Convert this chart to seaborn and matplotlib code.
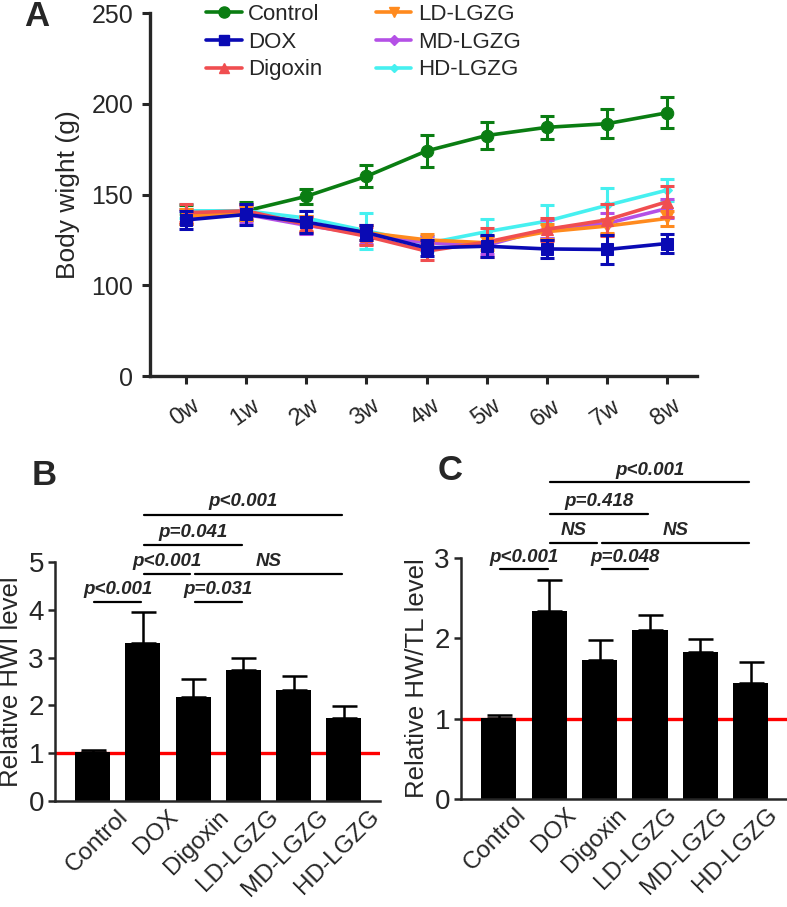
import numpy as np
import pandas as pd
import matplotlib
matplotlib.use("Agg")
import matplotlib.pyplot as plt
import matplotlib.transforms as mtransforms
from matplotlib.lines import Line2D
from matplotlib.ticker import FixedLocator, NullLocator, FormatStrFormatter
import seaborn as sns

# ---- data: panel A, body weight over time (mean, sd) ----
weeks = ['0w', '1w', '2w', '3w', '4w', '5w', '6w', '7w', '8w']
groups = ['Control', 'DOX', 'Digoxin', 'LD-LGZG', 'MD-LGZG', 'HD-LGZG']

control_mean = [139, 141, 149, 160, 174, 182.5, 187, 189, 195]
control_sd = [5, 5, 4, 6, 9, 7.5, 6.5, 8, 8.5]
dox_mean = [136, 139, 134.8, 129, 120.6, 121.5, 120, 119.7, 123]
dox_sd = [5, 6, 6, 4, 4.5, 6, 5, 8, 5.5]
digoxin_mean = [140, 141, 133.5, 127, 118.8, 123.8, 130.8, 136, 146]
digoxin_sd = [5, 4, 4, 5, 5, 8, 6.5, 9, 8.5]
ld_mean = [138, 140, 134, 129, 125, 123.4, 129.5, 132.6, 136.8]
ld_sd = [4, 4, 4, 4, 3, 4, 4, 4, 4]
md_mean = [138, 139, 133, 128, 123.4, 122, 131, 134, 142.3]
md_sd = [4, 4, 5, 5, 4, 5, 5, 6, 5]
hd_mean = [141, 141, 137, 130, 123, 129.5, 135.3, 144, 152.4]
hd_sd = [4, 4, 4, 10, 4, 7, 9, 9.7, 6]

# ---- data: panel B, relative HWI ----
hwi_mean = [1.02, 3.31, 2.17, 2.75, 2.33, 1.74]
hwi_err = [0.04, 0.64, 0.39, 0.25, 0.29, 0.24]
hwi_pairs = [(0, 1), (1, 2), (2, 5), (2, 3), (1, 3), (1, 5)]
hwi_levels = [4.16, 4.74, 4.74, 4.16, 5.35, 5.99]
hwi_labels = ['p<0.001', 'p<0.001', 'NS', 'p=0.031', 'p=0.041', 'p<0.001']

# ---- data: panel C, relative HW/TL ----
hwtl_mean = [1.01, 2.34, 1.73, 2.10, 1.83, 1.45]
hwtl_err = [0.03, 0.39, 0.25, 0.19, 0.16, 0.25]
hwtl_pairs = [(0, 1), (1, 2), (2, 5), (2, 3), (1, 3), (1, 5)]
hwtl_levels = [2.86, 3.19, 3.19, 2.86, 3.55, 3.94]
hwtl_labels = ['p<0.001', 'NS', 'NS', 'p=0.048', 'p=0.418', 'p<0.001']

sns.set_style('ticks')
plt.rcParams['font.family'] = ['Liberation Sans', 'DejaVu Sans']

colors = {'Control': '#0a7d12', 'DOX': '#0a0ab4', 'Digoxin': '#f04e50',
          'LD-LGZG': '#ff8a1e', 'MD-LGZG': '#b450e6', 'HD-LGZG': '#46f0f0'}
markers = {'Control': 'o', 'DOX': 's', 'Digoxin': '^',
           'LD-LGZG': 'v', 'MD-LGZG': 'D', 'HD-LGZG': 'D'}
msizes = {'Control': 9, 'DOX': 8, 'Digoxin': 8,
          'LD-LGZG': 8, 'MD-LGZG': 6, 'HD-LGZG': 5}
means = {'Control': control_mean, 'DOX': dox_mean, 'Digoxin': digoxin_mean,
         'LD-LGZG': ld_mean, 'MD-LGZG': md_mean, 'HD-LGZG': hd_mean}
sds = {'Control': control_sd, 'DOX': dox_sd, 'Digoxin': digoxin_sd,
       'LD-LGZG': ld_sd, 'MD-LGZG': md_sd, 'HD-LGZG': hd_sd}
draw_order = ['Control', 'HD-LGZG', 'MD-LGZG', 'LD-LGZG', 'Digoxin', 'DOX']

fig = plt.figure(figsize=(7.87, 9.07), dpi=100)


def shift_labels(ax, dx, dy):
    off = mtransforms.ScaledTranslation(dx / 100, dy / 100, fig.dpi_scale_trans)
    for lab in ax.get_xticklabels():
        lab.set_transform(lab.get_transform() + off)


# ================= Panel A =================
axA = fig.add_axes([150 / 787, 1 - 376 / 907, (697 - 150) / 787, (376 - 13) / 907])

# y axis: 0 then 100..250 (0-100 shown as one 50-unit step)
def fwd(y):
    y = np.asarray(y, dtype=float)
    return np.where(y >= 100, y - 50, y / 2)

def inv(m):
    m = np.asarray(m, dtype=float)
    return np.where(m >= 50, m + 50, m * 2)

axA.set_yscale('function', functions=(fwd, inv))

rows = []
for g in groups:
    for i, w in enumerate(weeks):
        rows.append({'group': g, 'x': i, 'weight': means[g][i], 'sd': sds[g][i]})
dfA = pd.DataFrame(rows)

for z, g in enumerate(draw_order):
    d = dfA[dfA['group'] == g]
    sns.lineplot(data=d, x='x', y='weight', color=colors[g], marker=markers[g],
                 markersize=msizes[g], markeredgecolor=colors[g], linewidth=2.6,
                 ax=axA, zorder=3 + z, legend=False)
    axA.errorbar(d['x'], d['weight'], yerr=d['sd'], fmt='none', ecolor=colors[g],
                 elinewidth=2.2, capsize=5, capthick=2.2, zorder=3 + z)

axA.set_xlim(-0.6, 8.5)
axA.set_ylim(0, 250)
axA.yaxis.set_major_locator(FixedLocator([0, 100, 150, 200, 250]))
axA.yaxis.set_major_formatter(FormatStrFormatter('%d'))
axA.yaxis.set_minor_locator(NullLocator())
axA.set_xticks(range(len(weeks)))
axA.set_xticklabels(weeks, rotation=35, ha='right', rotation_mode='anchor', fontsize=17)
axA.tick_params(axis='y', labelsize=18, length=6, width=2.2, pad=6)
axA.tick_params(axis='x', length=6, width=2.2, pad=5)
shift_labels(axA, 5, -4)
axA.set_xlabel('')
axA.set_ylabel('Body wight (g)', fontsize=19, labelpad=8)
for s in ['top', 'right']:
    axA.spines[s].set_visible(False)
for s in ['left', 'bottom']:
    axA.spines[s].set_linewidth(2.4)

handles = [Line2D([], [], color=colors[g], marker=markers[g], markersize=msizes[g] - 1,
                  markeredgecolor=colors[g], linewidth=2.6) for g in groups]
fig.legend(handles, groups, loc='upper left', ncol=2, frameon=False,
           bbox_to_anchor=(206 / 787, 1 - 4 / 907), bbox_transform=fig.transFigure,
           fontsize=16, handlelength=1.6, handletextpad=0.3, columnspacing=2.4,
           labelspacing=0.3, borderpad=0, borderaxespad=0)

fig.text(37 / 787, 1 - 17 / 907, 'A', fontsize=25, fontweight='bold', ha='center', va='center')


# ================= Panels B and C =================
def bar_panel(ax, vals, errs, ymax, ylabel, pairs, levels, labels, text_off, dx):
    df = pd.DataFrame({'group': groups, 'value': vals})
    ax.axhline(1, color='#ff0000', linewidth=2.4, zorder=1)
    sns.barplot(data=df, x='group', y='value', order=groups, color='black',
                width=0.7, errorbar=None, saturation=1, linewidth=0,
                ax=ax, zorder=2)
    ax.errorbar(range(len(groups)), vals, yerr=[np.zeros(len(vals)), errs], fmt='none',
                ecolor='black', elinewidth=1.8, capsize=9, capthick=1.8, zorder=3)
    ax.set_xlim(-0.75, 5.72)
    ax.set_ylim(0, ymax)
    ax.set_yticks(range(ymax + 1))
    ax.tick_params(axis='y', labelsize=20, length=5, width=1.8, pad=3)
    ax.tick_params(axis='x', length=0, labelsize=17.5, pad=2)
    ax.set_xticks(range(len(groups)))
    ax.set_xticklabels(groups, rotation=45, ha='right', rotation_mode='anchor')
    shift_labels(ax, dx, -2)
    ax.set_xlabel('')
    ax.set_ylabel(ylabel, fontsize=18.5, labelpad=4)
    for s in ['top', 'right']:
        ax.spines[s].set_visible(False)
    for s in ['left', 'bottom']:
        ax.spines[s].set_linewidth(1.8)
    for (a, b), y, t in zip(pairs, levels, labels):
        x1 = a + (0.02 if a < 2 else 0.04)
        x2 = b - (0.06 if (b - a == 1 and a == 1) else 0.03)
        ax.plot([x1, x2], [y, y], color='black', linewidth=1.6, clip_on=False)
        ax.text((x1 + x2) / 2, y + text_off, t, ha='center', va='center',
                fontsize=13.5, fontstyle='italic', fontweight='bold', clip_on=False)


axB = fig.add_axes([55 / 787, 1 - 801 / 907, (380 - 55) / 787, (801 - 562) / 907])
bar_panel(axB, hwi_mean, hwi_err, 5, 'Relative HWI level',
          hwi_pairs, hwi_levels, hwi_labels, 0.27, 24)
fig.text(44 / 787, 1 - 475 / 907, 'B', fontsize=25, fontweight='bold', ha='center', va='center')

axC = fig.add_axes([461 / 787, 1 - 799 / 907, (787 - 461) / 787, (799 - 558) / 907])
bar_panel(axC, hwtl_mean, hwtl_err, 3, 'Relative HW/TL level',
          hwtl_pairs, hwtl_levels, hwtl_labels, 0.15, 16)
fig.text(450 / 787, 1 - 471 / 907, 'C', fontsize=25, fontweight='bold', ha='center', va='center')

fig.savefig('out.png', dpi=100)
